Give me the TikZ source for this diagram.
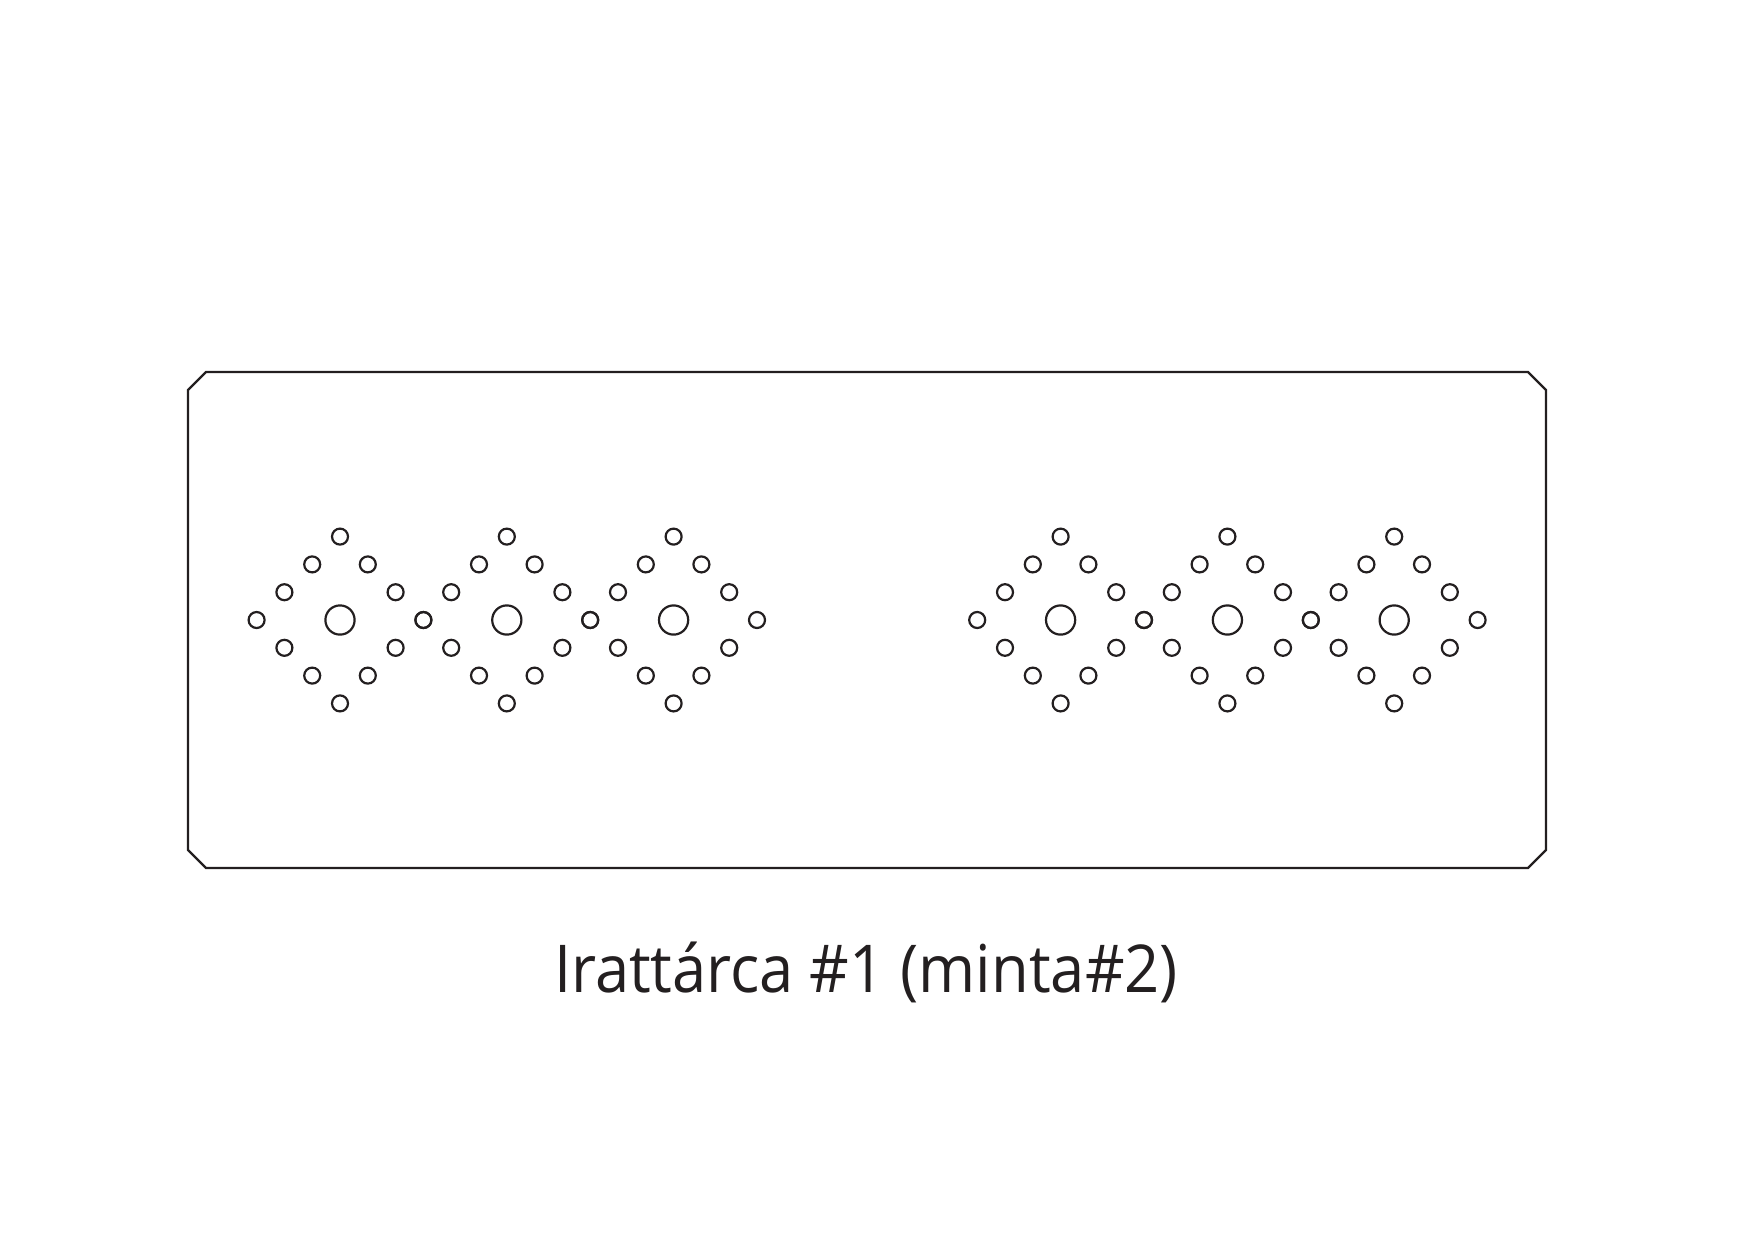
\documentclass[tikz,border=0pt]{standalone}
\usepackage{fontspec}
\setmainfont{Open Sans}
\definecolor{ink}{HTML}{231F20}
\begin{document}
\begin{tikzpicture}[x=1pt,y=-1pt,line width=2.2pt,draw=ink,
  hole/.style={draw=ink,line width=2.2pt}]
\useasboundingbox (0,0) rectangle (1744,1240);
\draw[ink] (206,372) -- (1528,372) -- (1546,390) -- (1546,850) -- (1528,868) -- (206,868) -- (188,850) -- (188,390) -- cycle;
\def\s{27.8}
\foreach \cx in {340,506.8,673.6,1060.6,1227.4,1394.2}{
  \draw[hole] (\cx,620) circle[radius=14.6];
  \foreach \dx/\dy in {0/-3,0/3,-1/-2,1/-2,-1/2,1/2,-2/-1,2/-1,-2/1,2/1,-3/0,3/0}{
    \draw[hole] (\cx+\dx*\s,620+\dy*\s) circle[radius=8];
  }
}
\node[anchor=base west,inner sep=0pt,text=ink,font=\fontsize{66}{70}\selectfont] (title) at (553,992)
  {\resizebox{624pt}{\height}{Irattárca \#1 (minta\#2)}};
\end{tikzpicture}
\end{document}
